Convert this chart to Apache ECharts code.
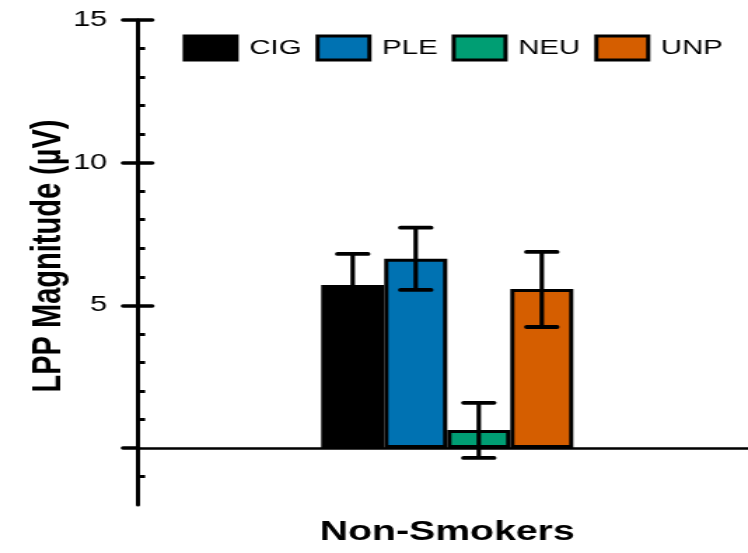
<!DOCTYPE html>
<html>
<head>
<meta charset="utf-8">
<script src="https://cdn.jsdelivr.net/npm/echarts@6/dist/echarts.min.js"></script>
<style>
  html, body { margin: 0; padding: 0; overflow: hidden; background: #fff; }
  #main { width: 534px; height: 553px; transform: scaleX(1.4007); transform-origin: 0 0; }
</style>
</head>
<body>
<div id="main"></div>
<script>
// ---- data ----
var groups = ['Non-Smokers'];
var conditions = ['CIG', 'PLE', 'NEU', 'UNP'];
var colors = ['#000000', '#0072B2', '#009E73', '#D55E00'];
var means = [5.71, 6.63, 0.63, 5.57];
var errLow = [4.62, 5.54, -0.35, 4.24];
var errHigh = [6.80, 7.72, 1.58, 6.87];
var yLabelValues = [5, 10, 15];
var yMajorTicks = [0, 5, 10, 15];
var yMinorTicks = [-1, 1, 2, 3, 4, 6, 7, 8, 9, 11, 12, 13, 14];

// ---- style constants ----
var FONT = 'Liberation Sans, Arial, sans-serif';
var BAR_W = 45;
var CAP_W = 21.5;

var chart = echarts.init(document.getElementById('main'), null, { renderer: 'canvas' });

var series = conditions.map(function (name, i) {
  return {
    name: name,
    type: 'bar',
    barWidth: BAR_W,
    barGap: '0%',
    data: [means[i]],
    itemStyle: { color: colors[i], borderColor: '#000', borderWidth: 3 },
    z: 2
  };
});

series.push({
  type: 'custom',
  name: 'SEM',
  z: 5,
  data: conditions.map(function (c, i) { return [0, errLow[i], errHigh[i], i]; }),
  encode: { x: 0, y: [1, 2] },
  renderItem: function (params, api) {
    var k = api.value(3);
    var top = api.coord([api.value(0), api.value(2)]);
    var bot = api.coord([api.value(0), api.value(1)]);
    var x = top[0] + (k - 1.5) * BAR_W;
    var h = CAP_W / 2;
    return {
      type: 'group',
      children: [
        { type: 'line', shape: { x1: x, y1: top[1], x2: x, y2: bot[1] },
          style: { stroke: '#000', lineWidth: 3.2 } },
        { type: 'line', shape: { x1: x - h, y1: top[1], x2: x + h, y2: top[1] },
          style: { stroke: '#000', lineWidth: 3.8, lineCap: 'round' } },
        { type: 'line', shape: { x1: x - h, y1: bot[1], x2: x + h, y2: bot[1] },
          style: { stroke: '#000', lineWidth: 3.8, lineCap: 'round' } }
      ]
    };
  }
});

chart.setOption({
  animation: false,
  backgroundColor: '#ffffff',
  grid: { left: 98.6, right: -6, top: 20, bottom: 48, containLabel: false, outerBoundsMode: 'none' },
  legend: {
    data: conditions,
    left: 130.4,
    top: 34.5,
    padding: 0,
    icon: 'rect',
    itemWidth: 37,
    itemHeight: 24,
    itemGap: 10,
    itemStyle: { borderColor: '#000', borderWidth: 3 },
    textStyle: { fontFamily: FONT, fontSize: 21, color: '#000', padding: [0, 0, 0, 4] }
  },
  xAxis: {
    type: 'category',
    data: groups,
    name: groups[0],
    nameLocation: 'middle',
    nameGap: 27,
    nameTextStyle: { fontFamily: FONT, fontSize: 28, fontWeight: 'bold', color: '#000', verticalAlign: 'middle' },
    axisLine: { onZero: true, lineStyle: { color: '#000', width: 2.5 } },
    axisTick: { show: false },
    axisLabel: { show: false },
    splitLine: { show: false }
  },
  yAxis: [
    {
      type: 'value', position: 'left', min: -2, max: 15,
      name: 'LPP Magnitude (µV)',
      nameLocation: 'middle',
      nameRotate: 90,
      nameGap: 64,
      nameMoveOverlap: false,
      nameTextStyle: { fontFamily: FONT, fontSize: 29, fontWeight: 'bold', color: '#000',
                       verticalAlign: 'middle', align: 'center', padding: [0, 0, 0, 13] },
      axisLine: { show: true, lineStyle: { color: '#000', width: 3, cap: 'round' } },
      axisTick: { show: true, inside: true, length: 5, customValues: yMinorTicks,
                  lineStyle: { color: '#000', width: 3 } },
      axisLabel: { show: true, customValues: yLabelValues, margin: 22,
                   fontFamily: FONT, fontSize: 22, color: '#000' },
      splitLine: { show: false }
    },
    {
      type: 'value', position: 'left', min: -2, max: 15,
      axisLine: { show: false },
      axisTick: { show: true, inside: false, length: 10.7, customValues: yMajorTicks,
                  lineStyle: { color: '#000', width: 3.5, cap: 'round' } },
      axisLabel: { show: false },
      splitLine: { show: false }
    },
    {
      type: 'value', position: 'left', min: -2, max: 15,
      axisLine: { show: false },
      axisTick: { show: true, inside: true, length: 10, customValues: yMajorTicks.slice(1),
                  lineStyle: { color: '#000', width: 3.5, cap: 'round' } },
      axisLabel: { show: false },
      splitLine: { show: false }
    }
  ],
  series: series
});
</script>
</body>
</html>
